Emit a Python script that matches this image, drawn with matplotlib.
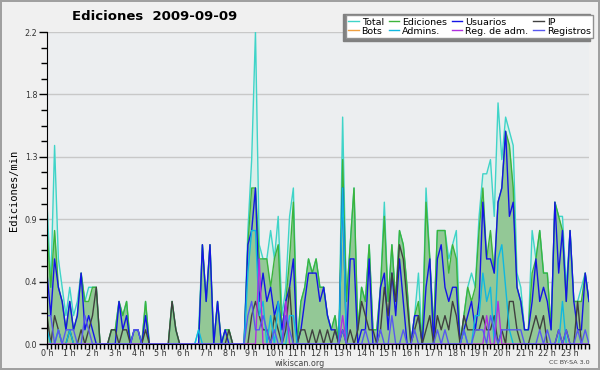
import numpy as np
import matplotlib
matplotlib.use("Agg")
import matplotlib.pyplot as plt
from matplotlib.patches import Rectangle
from matplotlib.ticker import FixedLocator, MultipleLocator

# edits per 10-minute slot, 2009-09-09 (144 slots, 6 per hour)
total = [10, 4, 14, 6, 4, 2,  4, 2, 3, 5, 3, 4,  4, 4, 0, 0, 0, 1,  1, 3, 2, 3, 0, 1,
         1, 0, 3, 0, 0, 0,  0, 0, 0, 3, 1, 0,  0, 0, 0, 0, 1, 7,  3, 7, 0, 3, 0, 1,
         1, 0, 0, 0, 0, 8,  13, 22, 7, 6, 6, 8,  6, 9, 2, 4, 9, 11,  0, 3, 4, 6, 5, 6,
         4, 4, 2, 1, 2, 0,  16, 3, 7, 11, 1, 4,  3, 7, 1, 1, 4, 10,  3, 7, 3, 8, 7, 4,
         0, 2, 5, 0, 11, 6,  1, 8, 8, 8, 6, 7,  8, 0, 2, 4, 5, 4,  9, 12, 12, 13, 9, 17,
         13, 16, 15, 14, 5, 4,  1, 1, 8, 6, 8, 5,  5, 1, 10, 9, 9, 4,  8, 3, 3, 4, 5, 3]
ediciones = [8, 4, 8, 4, 3, 1,  3, 1, 2, 5, 3, 3,  4, 4, 0, 0, 0, 1,  1, 3, 2, 3, 0, 1,
             1, 0, 3, 0, 0, 0,  0, 0, 0, 3, 1, 0,  0, 0, 0, 0, 0, 7,  3, 7, 0, 3, 0, 1,
             1, 0, 0, 0, 0, 7,  11, 11, 6, 6, 6, 4,  6, 7, 1, 3, 6, 10,  0, 3, 4, 6, 5, 6,
             4, 4, 2, 1, 2, 0,  13, 3, 7, 11, 1, 4,  3, 7, 1, 1, 4, 9,  3, 7, 3, 8, 7, 4,
             0, 2, 3, 0, 10, 6,  1, 8, 8, 8, 5, 7,  6, 0, 2, 4, 3, 4,  8, 11, 6, 8, 5, 10,
             11, 15, 14, 11, 4, 3,  1, 1, 5, 6, 8, 5,  5, 1, 10, 9, 8, 3,  8, 3, 3, 3, 5, 3]
usuarios = [5, 2, 6, 4, 3, 1,  3, 1, 2, 5, 1, 2,  1, 0, 0, 0, 0, 0,  0, 3, 1, 2, 0, 1,
            1, 0, 2, 0, 0, 0,  0, 0, 0, 0, 0, 0,  0, 0, 0, 0, 0, 7,  3, 7, 0, 3, 0, 1,
            0, 0, 0, 0, 0, 7,  8, 11, 3, 5, 3, 4,  2, 3, 1, 3, 4, 6,  0, 1, 3, 5, 5, 5,
            3, 4, 2, 1, 1, 0,  11, 0, 6, 6, 0, 1,  1, 6, 0, 0, 4, 5,  1, 5, 2, 6, 3, 0,
            0, 2, 2, 0, 4, 6,  0, 6, 7, 4, 3, 4,  4, 0, 1, 2, 3, 1,  3, 10, 6, 6, 5, 10,
            11, 15, 9, 10, 4, 3,  1, 1, 3, 6, 3, 4,  3, 1, 10, 5, 8, 3,  8, 3, 1, 1, 5, 3]
ip = [2, 0, 2, 1, 0, 0,  1, 0, 0, 1, 0, 1,  2, 4, 0, 0, 0, 1,  1, 0, 1, 1, 0, 0,
      0, 0, 1, 0, 0, 0,  0, 0, 0, 3, 1, 0,  0, 0, 0, 0, 0, 0,  0, 0, 0, 0, 0, 0,
      1, 0, 0, 0, 0, 0,  2, 3, 2, 1, 1, 0,  2, 1, 0, 1, 4, 0,  0, 1, 1, 0, 1, 0,
      1, 0, 1, 0, 1, 0,  1, 0, 1, 0, 1, 3,  2, 1, 1, 0, 1, 4,  2, 5, 3, 7, 6, 3,
      0, 1, 2, 0, 1, 2,  0, 2, 1, 2, 1, 3,  2, 0, 2, 1, 1, 1,  1, 2, 1, 1, 2, 0,
      1, 0, 3, 3, 1, 0,  0, 0, 1, 2, 1, 2,  0, 0, 0, 1, 0, 1,  0, 0, 3, 0, 0, 0]
bots = [0] * 144
admins = [1, 0, 0, 1, 0, 0,  1, 0, 0, 0, 0, 0,  0, 0, 0, 0, 0, 0,  0, 0, 0, 0, 0, 0,
          0, 0, 0, 0, 0, 0,  0, 0, 0, 0, 0, 0,  0, 0, 0, 0, 1, 0,  0, 0, 0, 0, 0, 0,
          0, 0, 0, 0, 0, 5,  8, 8, 2, 3, 0, 2,  0, 3, 0, 0, 2, 2,  0, 0, 0, 0, 0, 0,
          0, 0, 0, 0, 0, 0,  11, 0, 0, 0, 0, 0,  0, 0, 0, 0, 0, 0,  0, 0, 0, 0, 0, 0,
          0, 0, 0, 0, 0, 0,  0, 0, 0, 0, 0, 0,  0, 0, 1, 0, 0, 2,  2, 5, 3, 4, 0, 6,
          7, 4, 1, 0, 0, 0,  0, 0, 0, 0, 0, 0,  0, 0, 0, 0, 3, 0,  0, 0, 0, 0, 0, 0]
reg_adm = [0] * 56 + [6] + [0] * 6 + [3] + [0] * 14 + [2] + [0] * 37 + [2, 0, 0, 3] + [0] * 24
registros = [2, 2, 0, 1, 0, 1,  1, 1, 0, 0, 2, 1,  0, 0, 0, 0, 0, 0,  0, 0, 0, 0, 0, 1,
             1, 0, 0, 0, 0, 0,  0, 0, 0, 0, 0, 0,  0, 0, 0, 0, 0, 0,  0, 0, 0, 0, 0, 0,
             0, 0, 0, 0, 0, 2,  3, 1, 1, 2, 1, 0,  1, 0, 0, 2, 1, 0,  0, 0, 0, 0, 0, 0,
             0, 0, 0, 0, 0, 0,  1, 0, 0, 0, 0, 0,  1, 0, 0, 0, 1, 0,  0, 2, 0, 0, 1, 0,
             0, 1, 0, 0, 0, 0,  0, 1, 0, 1, 0, 0,  0, 0, 1, 0, 0, 1,  1, 1, 0, 2, 1, 0,
             1, 1, 1, 1, 1, 1,  0, 0, 0, 0, 1, 0,  1, 0, 0, 1, 0, 1,  0, 0, 1, 0, 1, 0]
hour_labels = ["%d h" % h for h in range(24)]

x = np.arange(len(total))
per_min = lambda s: np.array(s) / 10.0

fig = plt.figure(figsize=(6, 3.7), dpi=100, facecolor="#f0f0f0",
                 edgecolor="#a0a0a0", linewidth=1.5)
ax = fig.add_axes([47 / 600, 26 / 370, 542 / 600, 312 / 370])
ax.set_facecolor("#eceef0")

# filled areas
ax.fill_between(x, per_min(total), color="#d9efea", lw=0, zorder=1)
ax.fill_between(x, per_min(ediciones), color="#93c896", lw=0, zorder=1.2)

series = [
    ("Total", total, "#3fd4c8"),
    ("Ediciones", ediciones, "#3cb43c"),
    ("Usuarios", usuarios, "#1414e6"),
    ("IP", ip, "#404040"),
    ("Bots", bots, "#f0a040"),
    ("Admins.", admins, "#10b8e0"),
    ("Reg. de adm.", reg_adm, "#b030e0"),
    ("Registros", registros, "#5858f0"),
]
handles = {}
for name, vals, col in series:
    ln, = ax.plot(x, per_min(vals), color=col, lw=1.0, zorder=2)
    handles[name] = ln

ax.set_xlim(0, 143)
ax.set_ylim(0, 2.2)
for s in ("top", "right"):
    ax.spines[s].set_visible(False)

yt = [0, 0.44, 0.88, 1.32, 1.76, 2.2]
ax.yaxis.set_major_locator(FixedLocator(yt))
ax.set_yticklabels(["%.1f" % v for v in yt])
ax.yaxis.set_minor_locator(MultipleLocator(0.11))
ax.grid(axis="y", color="#c8c8c8", lw=1, zorder=0)
ax.set_axisbelow(True)

ax.xaxis.set_major_locator(FixedLocator(np.arange(0, 144, 6)))
ax.set_xticklabels(hour_labels)
ax.xaxis.set_minor_locator(MultipleLocator(1))

ax.tick_params(axis="both", which="both", direction="out", colors="black",
               labelcolor="#333333", labelsize=5.8, width=1)
ax.tick_params(axis="y", which="major", length=6, pad=1)
ax.tick_params(axis="y", which="minor", length=4)
ax.tick_params(axis="x", which="both", length=3.5, pad=0)

fig.text(155 / 600, 1 - 17 / 370, "Ediciones  2009-09-09", ha="center", va="center",
         fontsize=9.5, fontweight="bold")
fig.text(14 / 600, 1 - 190 / 370, "Ediciones/min", rotation=90, ha="center", va="center",
         family="DejaVu Sans Mono", fontsize=7.5)
fig.text(300 / 600, 1 - 364 / 370, "wikiscan.org", ha="center", va="center",
         fontsize=5.8, color="#444444")
fig.text(590 / 600, 1 - 363 / 370, "CC BY-SA 3.0", ha="right", va="center",
         fontsize=4.6, color="#444444")

# legend with drop shadow
order = ["Total", "Bots", "Ediciones", "Admins.", "Usuarios", "Reg. de adm.", "IP", "Registros"]
leg = fig.legend([handles[n] for n in order], order, ncol=4, loc="lower left",
                 bbox_to_anchor=(346 / 600, 1 - 38 / 370, 247 / 600, 26 / 370),
                 mode="expand", fontsize=6.8,
                 frameon=True, fancybox=False, borderpad=0.25, labelspacing=0.0,
                 handlelength=1.1, handletextpad=0.3, columnspacing=0.2,
                 borderaxespad=0)
leg.get_frame().set_edgecolor("#909090")
leg.get_frame().set_facecolor("white")
leg.get_frame().set_alpha(1)
leg.set_zorder(5)
fig.patches.append(Rectangle((343 / 600, 1 - 41 / 370), 247 / 600, 27 / 370,
                             transform=fig.transFigure, color="#808080", zorder=4))

fig.savefig("out.png", dpi=100, facecolor=fig.get_facecolor(), edgecolor=fig.get_edgecolor())
